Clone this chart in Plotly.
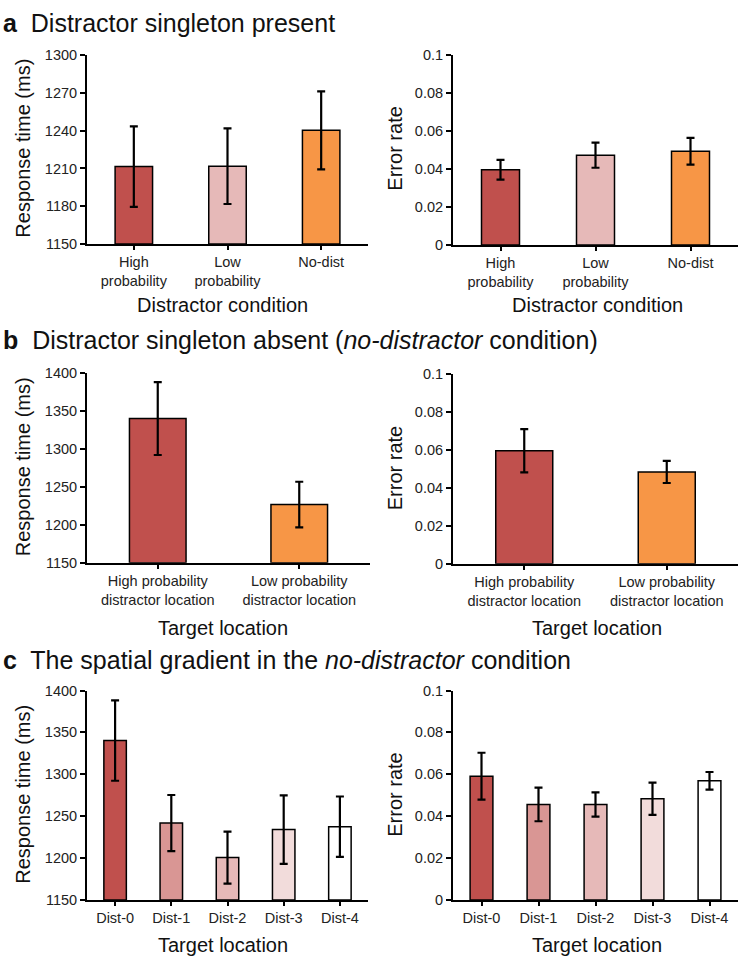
import plotly.graph_objects as go

# ---------------- data ----------------
a_cats = ["High<br>probability", "Low<br>probability", "No-dist"]
a_rt = [1211.5, 1211.8, 1240.3]
a_rt_err = [32, 30, 31]
a_er = [0.0397, 0.0473, 0.0494]
a_er_err = [0.0052, 0.0066, 0.0070]
a_colors = ["#C0504D", "#E6B9B8", "#F79646"]

b_cats = ["High probability<br>distractor location", "Low probability<br>distractor location"]
b_rt = [1339.8, 1226.6]
b_rt_err = [48, 30]
b_er = [0.0595, 0.0483]
b_er_err = [0.0114, 0.0058]
b_colors = ["#C0504D", "#F79646"]

c_cats = ["Dist-0", "Dist-1", "Dist-2", "Dist-3", "Dist-4"]
c_rt = [1340.3, 1241.8, 1200.6, 1234.0, 1237.5]
c_rt_err = [48, 33.5, 31, 40.8, 36]
c_er = [0.0591, 0.0456, 0.0456, 0.0483, 0.0569]
c_er_err = [0.0112, 0.0080, 0.0058, 0.0077, 0.0042]
c_colors = ["#C0504D", "#D99694", "#E6B9B8", "#F2DCDB", "#FFFFFF"]

FONT = "Liberation Sans, Arial, sans-serif"
W, H = 742, 967

def px(x):
    return x / W

def py(y):
    return 1 - y / H

fig = go.Figure()

panels = [
    (a_cats, a_rt, a_rt_err, a_colors, (87, 368), (48, 240), [1150, 1300], 30),
    (a_cats, a_er, a_er_err, a_colors, (453, 738), (48, 241), [0, 0.1], 0.02),
    (b_cats, b_rt, b_rt_err, b_colors, (87, 370), (371, 564), [1150, 1400], 50),
    (b_cats, b_er, b_er_err, b_colors, (453, 738), (372, 565), [0, 0.1], 0.02),
    (c_cats, c_rt, c_rt_err, c_colors, (87, 368), (694, 907), [1150, 1400], 50),
    (c_cats, c_er, c_er_err, c_colors, (453, 738), (694, 907), [0, 0.1], 0.02),
]

layout_axes = {}
for i, (cats, vals, errs, cols, xd, yd, yr, dt) in enumerate(panels):
    n = i + 1
    xa = "x" if n == 1 else f"x{n}"
    ya = "y" if n == 1 else f"y{n}"
    fig.add_trace(go.Bar(
        x=cats, y=[v - yr[0] for v in vals], base=yr[0],
        xaxis=xa, yaxis=ya, width=0.4,
        marker=dict(color=cols, line=dict(color="black", width=1.5)),
        error_y=dict(type="data", array=errs, visible=True, color="black",
                     thickness=2.2, width=4),
        showlegend=False, hoverinfo="skip",
    ))
    xkey = "xaxis" if n == 1 else f"xaxis{n}"
    ykey = "yaxis" if n == 1 else f"yaxis{n}"
    layout_axes[xkey] = dict(
        domain=[px(xd[0]), px(xd[1])], anchor=ya, type="category",
        showline=True, linecolor="black", linewidth=2,
        ticks="outside", ticklen=4, tickwidth=1.5, tickcolor="black",
        tickfont=dict(family=FONT, size=14.5, color="#222"),
        showgrid=False, zeroline=False, fixedrange=True,
    )
    layout_axes[ykey] = dict(
        domain=[py(yd[1]), py(yd[0])], anchor=xa, range=yr, dtick=dt,
        tick0=yr[0],
        showline=True, linecolor="black", linewidth=2,
        ticks="outside", ticklen=5, tickwidth=1.5, tickcolor="black",
        tickfont=dict(family=FONT, size=14.5, color="#222"),
        showgrid=False, zeroline=False, fixedrange=True,
    )

fig.update_layout(**layout_axes)

ann = []
def text(x, y, t, size=20, angle=0, xanchor="center"):
    ann.append(dict(x=px(x), y=py(y), xref="paper", yref="paper", text=t,
                    showarrow=False, textangle=angle, xanchor=xanchor,
                    yanchor="middle", font=dict(family=FONT, size=size, color="#111")))

# axis titles
text(23, 143, "Response time (ms)", angle=-90)
text(395, 143, "Error rate", angle=-90)
text(222, 302, "Distractor condition")
text(597, 302, "Distractor condition")
text(23, 467, "Response time (ms)", angle=-90)
text(395, 468, "Error rate", angle=-90)
text(223, 630, "Target location")
text(597, 630, "Target location")
text(23, 800, "Response time (ms)", angle=-90)
text(395, 800, "Error rate", angle=-90)
text(223, 953, "Target location")
text(597, 953, "Target location")

# panel titles
text(1, 15, "<b>a</b>  Distractor singleton present", size=25, xanchor="left")
text(1, 338, "<b>b</b>  Distractor singleton absent (<i>no-distractor</i> condition)", size=25, xanchor="left")
text(1, 663, "<b>c</b>  The spatial gradient in the <i>no-distractor</i> condition", size=25, xanchor="left")

fig.update_layout(
    annotations=ann,
    width=W, height=H,
    margin=dict(l=0, r=0, t=0, b=0),
    paper_bgcolor="white", plot_bgcolor="white",
    font=dict(family=FONT, color="#111"),
    bargap=0.6,
)

fig.write_html(
    "out.html",
    config={"displayModeBar": False},
    post_script="document.body.style.margin='0';document.body.style.overflow='hidden';",
)
